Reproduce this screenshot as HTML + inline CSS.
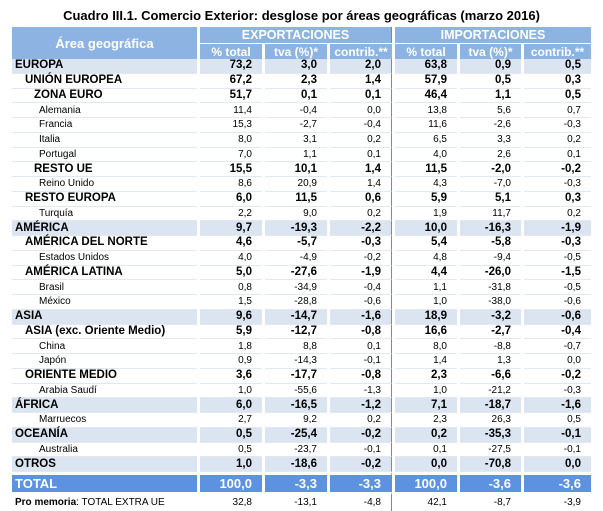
<!DOCTYPE html>
<html><head><meta charset="utf-8"><style>
body{margin:0;width:603px;height:506px;background:#fff;font-family:"Liberation Sans",Arial,sans-serif;position:relative;overflow:hidden}
.title{position:absolute;top:8px;left:0;width:603px;text-align:center;font-weight:bold;font-size:13px;color:#000}
table{position:absolute;left:9px;top:27px;border-collapse:separate;border-spacing:3px 0;table-layout:fixed}
td{padding:0;white-space:nowrap;box-sizing:border-box}
.h1 td{height:16px;line-height:15px;background:#8db3e2;color:#fff;font-weight:bold;font-size:12.5px;text-align:center}
.h2 td{height:16px;line-height:14px;background:#8db3e2;color:#fff;font-weight:bold;font-size:12px;text-align:center;border-top:1px solid #fff}
tr.d td{height:14.75px;line-height:13px;font-size:10px;text-align:right;padding-right:10px;border-bottom:1px solid #e4e8ee}
tr.d td:first-child{text-align:left;padding-right:0}
tr.b td{font-weight:bold;font-size:11.5px}
tr.l td{background:#dbe5f1}
td.div{border-right:1px solid #5b8fd6 !important}
tr.t td{height:20px;line-height:16px;background:#5d92e0;color:#fff;font-weight:bold;font-size:13px;text-align:right;padding-right:10px;border-top:3px solid #fff}
tr.t td:first-child{text-align:left}
tr.p td{height:19px;line-height:16px;font-size:10px;text-align:right;padding-right:10px;border-top:3px solid #fff}
tr.p td:first-child{text-align:left}
</style></head><body>
<div class="title">Cuadro III.1. Comercio Exterior: desglose por áreas geográficas (marzo 2016)</div>
<table>
<colgroup><col style="width:185px"><col style="width:62px"><col style="width:62px"><col style="width:62px"><col style="width:62px"><col style="width:61px"><col style="width:67px"></colgroup>
<tr class="h1"><td rowspan="2" style="font-size:13px">Área geográfica</td><td colspan="3" class="div">EXPORTACIONES</td><td colspan="3">IMPORTACIONES</td></tr>
<tr class="h2"><td>% total</td><td>tva (%)*</td><td>contrib.**</td><td>% total</td><td>tva (%)*</td><td>contrib.**</td></tr>
<tr class="d b l"><td style="padding-left:3px">EUROPA</td><td>73,2</td><td>3,0</td><td class="div">2,0</td><td>63,8</td><td>0,9</td><td>0,5</td></tr>
<tr class="d b"><td style="padding-left:13px">UNIÓN EUROPEA</td><td>67,2</td><td>2,3</td><td class="div">1,4</td><td>57,9</td><td>0,5</td><td>0,3</td></tr>
<tr class="d b"><td style="padding-left:22px">ZONA EURO</td><td>51,7</td><td>0,1</td><td class="div">0,1</td><td>46,4</td><td>1,1</td><td>0,5</td></tr>
<tr class="d"><td style="padding-left:27px">Alemania</td><td>11,4</td><td>-0,4</td><td class="div">0,0</td><td>13,8</td><td>5,6</td><td>0,7</td></tr>
<tr class="d"><td style="padding-left:27px">Francia</td><td>15,3</td><td>-2,7</td><td class="div">-0,4</td><td>11,6</td><td>-2,6</td><td>-0,3</td></tr>
<tr class="d"><td style="padding-left:27px">Italia</td><td>8,0</td><td>3,1</td><td class="div">0,2</td><td>6,5</td><td>3,3</td><td>0,2</td></tr>
<tr class="d"><td style="padding-left:27px">Portugal</td><td>7,0</td><td>1,1</td><td class="div">0,1</td><td>4,0</td><td>2,6</td><td>0,1</td></tr>
<tr class="d b"><td style="padding-left:22px">RESTO UE</td><td>15,5</td><td>10,1</td><td class="div">1,4</td><td>11,5</td><td>-2,0</td><td>-0,2</td></tr>
<tr class="d"><td style="padding-left:27px">Reino Unido</td><td>8,6</td><td>20,9</td><td class="div">1,4</td><td>4,3</td><td>-7,0</td><td>-0,3</td></tr>
<tr class="d b"><td style="padding-left:13px">RESTO EUROPA</td><td>6,0</td><td>11,5</td><td class="div">0,6</td><td>5,9</td><td>5,1</td><td>0,3</td></tr>
<tr class="d"><td style="padding-left:27px">Turquía</td><td>2,2</td><td>9,0</td><td class="div">0,2</td><td>1,9</td><td>11,7</td><td>0,2</td></tr>
<tr class="d b l"><td style="padding-left:3px">AMÉRICA</td><td>9,7</td><td>-19,3</td><td class="div">-2,2</td><td>10,0</td><td>-16,3</td><td>-1,9</td></tr>
<tr class="d b"><td style="padding-left:13px">AMÉRICA DEL NORTE</td><td>4,6</td><td>-5,7</td><td class="div">-0,3</td><td>5,4</td><td>-5,8</td><td>-0,3</td></tr>
<tr class="d"><td style="padding-left:27px">Estados Unidos</td><td>4,0</td><td>-4,9</td><td class="div">-0,2</td><td>4,8</td><td>-9,4</td><td>-0,5</td></tr>
<tr class="d b"><td style="padding-left:13px">AMÉRICA LATINA</td><td>5,0</td><td>-27,6</td><td class="div">-1,9</td><td>4,4</td><td>-26,0</td><td>-1,5</td></tr>
<tr class="d"><td style="padding-left:27px">Brasil</td><td>0,8</td><td>-34,9</td><td class="div">-0,4</td><td>1,1</td><td>-31,8</td><td>-0,5</td></tr>
<tr class="d"><td style="padding-left:27px">México</td><td>1,5</td><td>-28,8</td><td class="div">-0,6</td><td>1,0</td><td>-38,0</td><td>-0,6</td></tr>
<tr class="d b l"><td style="padding-left:3px">ASIA</td><td>9,6</td><td>-14,7</td><td class="div">-1,6</td><td>18,9</td><td>-3,2</td><td>-0,6</td></tr>
<tr class="d b"><td style="padding-left:13px">ASIA (exc. Oriente Medio)</td><td>5,9</td><td>-12,7</td><td class="div">-0,8</td><td>16,6</td><td>-2,7</td><td>-0,4</td></tr>
<tr class="d"><td style="padding-left:27px">China</td><td>1,8</td><td>8,8</td><td class="div">0,1</td><td>8,0</td><td>-8,8</td><td>-0,7</td></tr>
<tr class="d"><td style="padding-left:27px">Japón</td><td>0,9</td><td>-14,3</td><td class="div">-0,1</td><td>1,4</td><td>1,3</td><td>0,0</td></tr>
<tr class="d b"><td style="padding-left:13px">ORIENTE MEDIO</td><td>3,6</td><td>-17,7</td><td class="div">-0,8</td><td>2,3</td><td>-6,6</td><td>-0,2</td></tr>
<tr class="d"><td style="padding-left:27px">Arabia Saudí</td><td>1,0</td><td>-55,6</td><td class="div">-1,3</td><td>1,0</td><td>-21,2</td><td>-0,3</td></tr>
<tr class="d b l"><td style="padding-left:3px">ÁFRICA</td><td>6,0</td><td>-16,5</td><td class="div">-1,2</td><td>7,1</td><td>-18,7</td><td>-1,6</td></tr>
<tr class="d"><td style="padding-left:27px">Marruecos</td><td>2,7</td><td>9,2</td><td class="div">0,2</td><td>2,3</td><td>26,3</td><td>0,5</td></tr>
<tr class="d b l"><td style="padding-left:3px">OCEANÍA</td><td>0,5</td><td>-25,4</td><td class="div">-0,2</td><td>0,2</td><td>-35,3</td><td>-0,1</td></tr>
<tr class="d"><td style="padding-left:27px">Australia</td><td>0,5</td><td>-23,7</td><td class="div">-0,1</td><td>0,1</td><td>-27,5</td><td>-0,1</td></tr>
<tr class="d b l"><td style="padding-left:3px">OTROS</td><td>1,0</td><td>-18,6</td><td class="div">-0,2</td><td>0,0</td><td>-70,8</td><td>0,0</td></tr>
<tr class="t"><td style="padding-left:3px">TOTAL</td><td>100,0</td><td>-3,3</td><td class="div">-3,3</td><td>100,0</td><td>-3,6</td><td>-3,6</td></tr>
<tr class="p"><td style="padding-left:3px"><b>Pro memoria</b>: TOTAL EXTRA UE</td><td>32,8</td><td>-13,1</td><td class="div">-4,8</td><td>42,1</td><td>-8,7</td><td>-3,9</td></tr>
</table>
</body></html>
